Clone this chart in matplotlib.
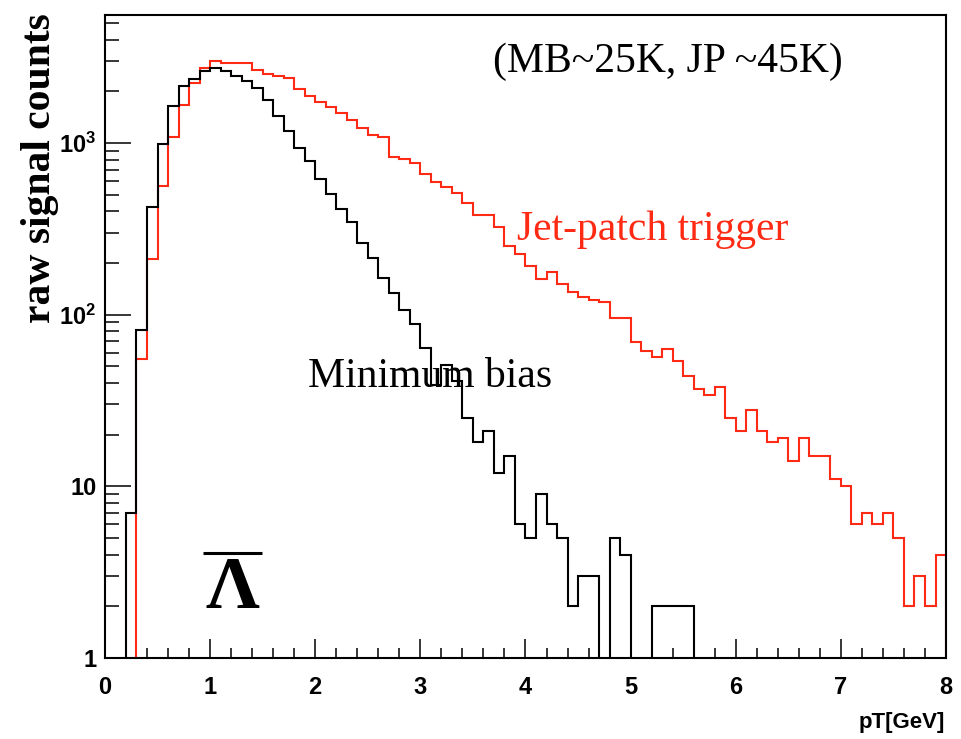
import numpy as np
import matplotlib
matplotlib.use("Agg")
import matplotlib.pyplot as plt
from matplotlib.ticker import LogLocator, MultipleLocator, NullFormatter, FixedLocator

# pT bins of 0.1 GeV from 0 to 8
bin_edges = np.round(np.arange(0, 8.05, 0.1), 2)

# anti-Lambda raw signal counts, minimum bias trigger
mb_counts = [
    0, 0, 7, 81, 425, 990, 1630, 2160, 2370, 2620,
    2730, 2640, 2440, 2300, 2100, 1780, 1430, 1170, 940, 790,
    617, 504, 412, 348, 261, 215, 163, 134, 107, 88,
    64, 39, 51, 41, 25, 18, 21, 12, 15, 6,
    5, 9, 6, 5, 2, 3, 3, 0, 5, 4,
    0, 0, 2, 2, 2, 2, 0, 0, 0, 0,
    0, 0, 0, 0, 0, 0, 0, 0, 0, 0,
    0, 0, 0, 0, 0, 0, 0, 0, 0, 0,
]

# anti-Lambda raw signal counts, jet-patch trigger
jp_counts = [
    0, 0, 0, 55, 211, 564, 1080, 1670, 2240, 2730,
    2990, 2920, 2920, 2920, 2660, 2530, 2450, 2390, 2050, 1880,
    1730, 1620, 1500, 1360, 1220, 1115, 1080, 830, 807, 765,
    660, 590, 552, 509, 447, 380, 380, 322, 252, 225,
    192, 161, 176, 150, 136, 126, 121, 119, 96, 96,
    69, 61, 57, 63, 54, 44, 37, 34, 38, 25,
    21, 28, 21, 18, 19, 14, 19, 15, 15, 11,
    10, 6, 7, 6, 7, 5, 2, 3, 2, 4,
]

y_ticks = [1, 10, 100, 1000]
y_tick_labels = ["1", "10", r"$\mathbf{10^{2}}$", r"$\mathbf{10^{3}}$"]

red = "#ff2a14"
serif = "Liberation Serif"
sans = "Liberation Sans"

plt.rcParams["mathtext.fontset"] = "custom"
plt.rcParams["mathtext.bf"] = "Liberation Sans:bold"

fig = plt.figure(figsize=(9.62, 7.39), dpi=100)
ax = fig.add_axes([0.1091, 0.1096, 0.8743, 0.8701])

# empty bins sit below the axis floor, so the outline drops to the bottom
floor = 0.01
mb = np.clip(np.array(mb_counts, dtype=float), floor, None)
jp = np.clip(np.array(jp_counts, dtype=float), floor, None)

ax.stairs(mb, bin_edges, baseline=floor, color="black", lw=1.5, zorder=3)
ax.stairs(jp, bin_edges, baseline=floor, color=red, lw=1.5, zorder=2)

ax.set_yscale("log")
ax.set_xlim(0, 8)
ax.set_ylim(1, 5560)

ax.xaxis.set_major_locator(MultipleLocator(1))
ax.xaxis.set_minor_locator(MultipleLocator(0.2))
ax.yaxis.set_major_locator(FixedLocator(y_ticks))
ax.set_yticklabels(y_tick_labels)
ax.yaxis.set_minor_locator(LogLocator(base=10, subs=np.arange(2, 10)))
ax.yaxis.set_minor_formatter(NullFormatter())

ax.tick_params(axis="x", which="major", direction="in", length=14, width=1.1,
               pad=13, top=False)
ax.tick_params(axis="x", which="minor", direction="in", length=7, width=1.1,
               top=False)
ax.tick_params(axis="y", which="major", direction="in", length=19, width=1.1,
               pad=6, right=False)
ax.tick_params(axis="y", which="minor", direction="in", length=10, width=1.1,
               right=False)
for lab in ax.get_xticklabels() + ax.get_yticklabels():
    lab.set_fontfamily(sans)
    lab.set_fontweight("bold")
    lab.set_fontsize(17)

for sp in ax.spines.values():
    sp.set_linewidth(1.5)

ax.text(0.461, 0.927, "(MB~25K, JP ~45K)", transform=ax.transAxes,
        family=serif, fontsize=30, va="center", ha="left")
ax.text(0.49, 0.666, "Jet-patch trigger", transform=ax.transAxes,
        family=serif, fontsize=30, color=red, va="center", ha="left")
ax.text(0.241, 0.437, "Minimum bias", transform=ax.transAxes,
        family=serif, fontsize=30, va="center", ha="left", zorder=1)

# anti-Lambda symbol with its bar
ax.text(0.152, 0.078, "\u039b", transform=ax.transAxes, family=serif,
        fontweight="bold", fontsize=54, va="baseline", ha="center")
ax.plot([0.117, 0.187], [0.163, 0.163], transform=ax.transAxes,
        color="black", lw=2.2, solid_capstyle="butt")

fig.text(0.042, 0.773, "raw signal counts", rotation=90, family=serif,
         fontweight="bold", fontsize=30, va="center", ha="center")
fig.text(0.982, 0.023, "pT[GeV]", family=sans, fontweight="bold",
         fontsize=16, va="center", ha="right")

fig.savefig("out.png", dpi=100, facecolor="white")
